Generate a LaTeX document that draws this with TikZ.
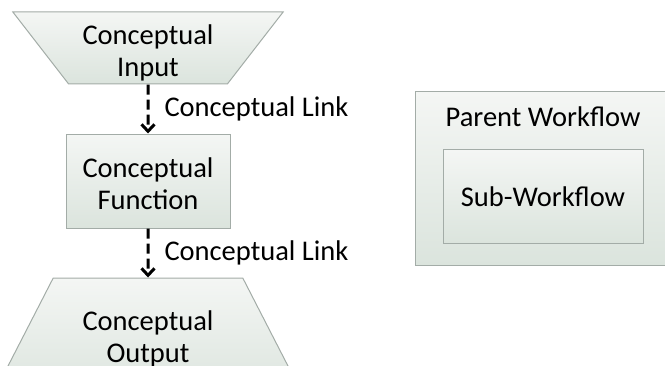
\documentclass[tikz,border=0pt]{standalone}
\usepackage{fontspec}
\setmainfont{Carlito}
\usetikzlibrary{positioning,shapes.geometric,arrows.meta}
\definecolor{boxtop}{RGB}{244,246,244}
\definecolor{boxbot}{RGB}{219,228,221}
\definecolor{boxline}{RGB}{163,172,167}

\begin{document}
\begin{tikzpicture}[x=1pt,y=1pt,>={Straight Barb[length=7pt,width=13pt]},
                every node/.style={font=\fontsize{28.5}{32}\selectfont},
                wfbox/.style={draw=boxline, line width=1pt, top color=boxtop, bottom color=boxbot, align=center, inner sep=0pt},
                wftrap/.style={wfbox, trapezium, trapezium angle=55.5, trapezium stretches=true},
                wflink/.style={->, line width=3pt, dash pattern=on 10pt off 5pt}]
                \useasboundingbox (0,0) rectangle (665,365);
                \node[wftrap, shape border rotate=180, minimum width=271, minimum height=72, text height=62pt, text depth=5pt] at (148,317) (inp) {Conceptual\\Input};
                \node[wfbox, minimum width=164, minimum height=94, text height=61pt, text depth=5pt, below=49pt of inp] (fun) {Conceptual\\Function};
                \node[wftrap, minimum width=313, minimum height=120, text height=55pt, text depth=7pt, below=49pt of fun] (out) {Conceptual\\Output};
                \node[wfbox, minimum width=256, minimum height=173] at (543,186.5) (par) {};
                \node[anchor=base] at (543,238.5) (partitle) {Parent Workflow};
                \node[wfbox, minimum width=200, minimum height=93] at (543,168.5) (sub) {Sub-Workflow};

                \draw[wflink] (inp)--node[right=13pt, midway, inner sep=2pt]{Conceptual Link}(fun);
                \draw[wflink] (fun)--node[right=13pt, midway, inner sep=2pt]{Conceptual Link}(out);
            \end{tikzpicture}
\end{document}
